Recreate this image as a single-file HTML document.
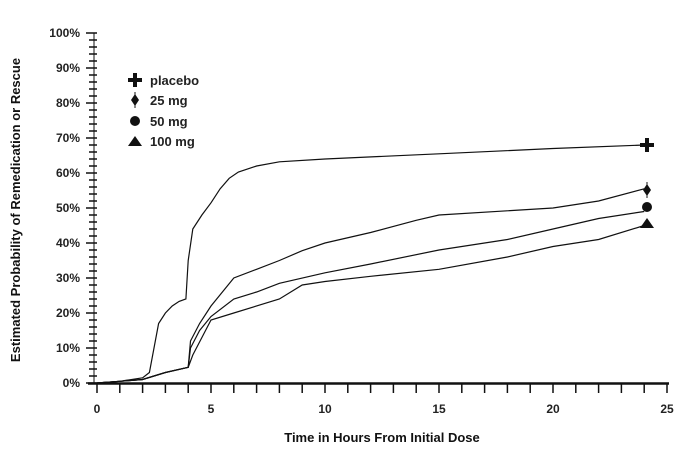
<!DOCTYPE html>
<html><head><meta charset="utf-8"><style>
body{margin:0;background:#fff}
svg text{font-family:"Liberation Sans",Arial,sans-serif;font-weight:bold;fill:#222}
</style></head><body>
<svg width="686" height="449" viewBox="0 0 686 449" xmlns="http://www.w3.org/2000/svg">
<g id="axes" stroke="#111">
<line x1="94" y1="33" x2="94" y2="383" stroke-width="1"/>
<line x1="88" y1="383.5" x2="669" y2="383.5" stroke-width="2.5"/>
</g>
<g id="yt" stroke="#111" stroke-width="1.5"></g>
<g id="xt" stroke="#111" stroke-width="1.5"></g>
<g font-size="12" text-anchor="end">
<text x="80" y="387">0%</text><text x="80" y="352">10%</text><text x="80" y="317">20%</text><text x="80" y="282">30%</text><text x="80" y="247">40%</text><text x="80" y="212">50%</text><text x="80" y="177">60%</text><text x="80" y="142">70%</text><text x="80" y="107">80%</text><text x="80" y="72">90%</text><text x="80" y="37">100%</text>
</g>
<g font-size="12" text-anchor="middle">
<text x="97" y="413">0</text><text x="211" y="413">5</text><text x="325" y="413">10</text><text x="439" y="413">15</text><text x="553" y="413">20</text><text x="667" y="413">25</text>
</g>
<text x="382" y="442" font-size="13" text-anchor="middle" style="fill:#111">Time in Hours From Initial Dose</text>
<text transform="translate(20,210) rotate(-90)" font-size="13" text-anchor="middle" style="fill:#111">Estimated Probability of Remedication or Rescue</text>
<g font-size="13">
<text x="150" y="85">placebo</text><text x="150" y="105">25 mg</text><text x="150" y="126">50 mg</text><text x="150" y="146">100 mg</text>
</g>
<g fill="#111">
<rect x="128" y="78" width="14" height="4"/><rect x="133" y="73" width="4" height="14"/>
<polygon points="135,94 139,100 135,106 131,100"/><rect x="134.5" y="92" width="1" height="16"/>
<circle cx="135" cy="121" r="5"/>
<polygon points="135,136 142,146 128,146"/>
</g>
<g fill="none" stroke="#111" stroke-width="1.2" id="curves"></g>
<g fill="#111">
<rect x="640" y="143" width="14" height="4"/><rect x="645" y="138" width="4" height="14"/>
<polygon points="647,184 651,190 647,196 643,190"/><rect x="646.5" y="182" width="1" height="16"/>
<circle cx="647" cy="207" r="5"/>
<polygon points="647,218 654,228 640,228"/>
</g>
<script>
var ns="http://www.w3.org/2000/svg";
function X(t){return 97+t*22.8}function Y(p){return 383-p*3.5}
var yt=document.getElementById('yt');
for(var p=0;p<=100;p+=2){var l=document.createElementNS(ns,'line');var maj=p%10==0;l.setAttribute('x1',maj?86:89);l.setAttribute('x2',97);l.setAttribute('y1',Y(p));l.setAttribute('y2',Y(p));yt.appendChild(l);}
var xt=document.getElementById('xt');
for(var t=0;t<=25;t++){var l=document.createElementNS(ns,'line');l.setAttribute('x1',X(t));l.setAttribute('x2',X(t));l.setAttribute('y1',383);l.setAttribute('y2',393);xt.appendChild(l);}
var S=[
[[0,0],[1,0.5],[2,1.5],[2.3,3],[2.5,10],[2.7,17],[3,20],[3.3,22],[3.6,23.3],[3.9,24],[4,35],[4.2,44],[4.6,48],[5,51.5],[5.4,55.5],[5.8,58.5],[6.2,60.3],[7,62],[8,63.2],[10,64],[15,65.5],[20,67],[24,68]],
[[0,0],[1,0.5],[2,1],[3,3],[4,4.5],[4.1,12],[4.5,17],[5,22],[5.5,26],[6,30],[7,32.5],[8,35],[9,37.8],[10,40],[12,43],[14,46.5],[15,48],[20,50],[22,52],[24,55.5]],
[[0,0],[1,0.5],[2,1],[3,3],[4,4.5],[4.1,10],[4.5,15],[5,19],[6,24],[7,26],[8,28.5],[10,31.5],[12,34],[15,38],[18,41],[20,44],[22,47],[24,49]],
[[0,0],[1,0.5],[2,1],[3,3],[4,4.5],[4.2,8],[4.6,13],[5,18],[6,20],[8,24],[9,28],[10,29],[12,30.5],[15,32.5],[18,36],[20,39],[22,41],[24,45]]];
var g=document.getElementById('curves');
S.forEach(function(s){var d=s.map(function(q,i){return (i?'L':'M')+X(q[0]).toFixed(1)+','+Y(q[1]).toFixed(1)}).join('');var p=document.createElementNS(ns,'path');p.setAttribute('d',d);g.appendChild(p);});
</script>
</svg>
</body></html>
